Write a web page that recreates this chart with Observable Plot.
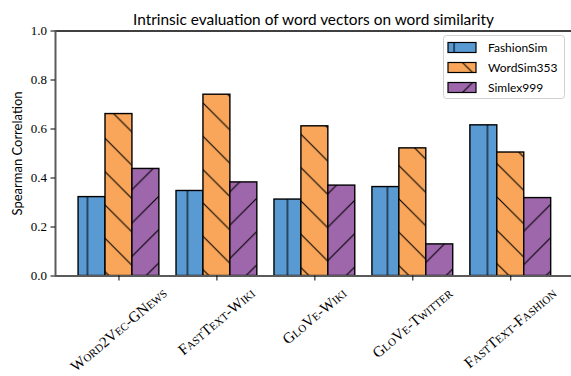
<!DOCTYPE html>
<html>
<head>
<meta charset="utf-8">
<script src="https://cdn.jsdelivr.net/npm/d3@7"></script>
<script src="https://cdn.jsdelivr.net/npm/@observablehq/plot@0.6"></script>
<style>
  html, body { margin: 0; padding: 0; background: #fff; }
  svg { display: block; }
</style>
</head>
<body>
<script>
// ---- data ----
const models = ["Word2Vec-GNews", "FastText-Wiki", "GloVe-Wiki", "GloVe-Twitter", "FastText-Fashion"];
const seriesNames = ["FashionSim", "WordSim353", "Simlex999"];
const fashionSim = [0.322, 0.347, 0.312, 0.363, 0.615];
const wordSim353 = [0.661, 0.740, 0.611, 0.521, 0.504];
const simlex999 = [0.437, 0.382, 0.369, 0.129, 0.318];
const yTicks = [0, 0.2, 0.4, 0.6, 0.8, 1.0];
const colors = ["#599ad3", "#f9a65a", "#9e66ab"];
const titleText = "Intrinsic evaluation of word vectors on word similarity";
const yLabel = "Spearman Correlation";

const seriesValues = [fashionSim, wordSim353, simlex999];
const barW = 0.275;
const table = [];
seriesValues.forEach((vals, si) => {
  vals.forEach((v, mi) => {
    const c = mi + (si - 1) * barW;
    table.push({model: models[mi], mi, series: seriesNames[si], si, value: v, x1: c - barW / 2, x2: c + barW / 2});
  });
});

const SANS = "Lato, 'Open Sans', sans-serif";
const SERIF = "'Liberation Serif', 'DejaVu Serif', serif";
const xDomain = [-0.648, 4.62];
const XFS = 15.2;   // x tick label font size
const ROT = 40;     // x tick label rotation (degrees)

const marks = [];
seriesNames.forEach((s, si) => {
  const rows = table.filter(d => d.si === si);
  marks.push(Plot.rectY(rows, {x1: "x1", x2: "x2", y1: 0, y2: "value", fill: colors[si]}));
  marks.push(Plot.rectY(rows, {x1: "x1", x2: "x2", y1: 0, y2: "value", fill: `url(#hatch${si})`, stroke: "black", strokeWidth: 1.4}));
});

const chart = Plot.plot({
  width: 571,
  height: 376,
  marginLeft: 55,
  marginRight: 0,
  marginTop: 30.5,
  marginBottom: 100.5,
  style: {background: "white", fontFamily: SERIF, fontSize: "13px", color: "black"},
  x: {domain: xDomain},
  y: {domain: [0, 1]},
  marks: [
    ...marks,
    Plot.ruleY([1], {stroke: "black", strokeWidth: 1.3}),
    Plot.ruleY([0], {stroke: "#5a5a5a", strokeWidth: 2}),
    Plot.ruleX([xDomain[0]], {stroke: "#5a5a5a", strokeWidth: 2}),
    Plot.axisY({ticks: yTicks, tickFormat: d3.format(".1f"), tickSize: 4.5, tickPadding: 4, label: null, fontFamily: SERIF, fontSize: 13}),
    Plot.axisX({ticks: d3.range(models.length), tickFormat: i => models[i], tickSize: 5, tickPadding: 4, tickRotate: -ROT, label: null, fontFamily: SERIF, fontSize: XFS}),
    Plot.text([yLabel], {frameAnchor: "left", textAnchor: "middle", rotate: -90, dx: -38, fontFamily: SANS, fontSize: 13}),
    Plot.text([titleText], {frameAnchor: "top", textAnchor: "middle", dy: -17, fontFamily: SANS, fontSize: 15.4})
  ]
});

document.body.appendChild(chart);
const svg = d3.select(chart);

// hatch patterns (anchored in user space, like matplotlib's global hatch grid)
const defs = svg.insert("defs", ":first-child");
const P = 33.333;
const pats = [
  {x: 20.8 - P / 2, d: `M${P / 2},-2 V${P + 2}`},
  {x: 0, d: `M-2,-2 L${P + 2},${P + 2} M-8,${P - 8} L8,${P + 8} M${P - 8},-8 L${P + 8},8`},
  {x: 21.7, d: `M-2,${P + 2} L${P + 2},-2 M-8,8 L8,-8 M${P - 8},${P + 8} L${P + 8},${P - 8}`}
];
pats.forEach((p, i) => {
  const pat = defs.append("pattern").attr("id", `hatch${i}`).attr("patternUnits", "userSpaceOnUse")
    .attr("x", p.x).attr("y", 0).attr("width", P).attr("height", P);
  pat.append("path").attr("d", p.d).attr("stroke", "black").attr("stroke-width", 1.1).attr("fill", "none");
});

// x tick labels: small caps, rotated, centred under the tick (matplotlib ha="center")
const TOP = 287;
const rad = ROT * Math.PI / 180;
svg.selectAll('g[aria-label="x-axis tick label"] text').each(function () {
  d3.select(this.parentNode).attr("transform", null);
  const t = d3.select(this);
  t.style("font-variant", "small-caps").attr("text-anchor", "middle").attr("dy", "0.34em").attr("y", null);
  const m = /translate\(([^,]+),([^)]+)\)/.exec(t.attr("transform") || "");
  const L = this.getComputedTextLength();
  const tx = m ? +m[1] : 0;
  const half = (L / 2) * Math.sin(rad) + 0.34 * XFS * Math.cos(rad);
  t.attr("transform", `translate(${tx},${TOP + half}) rotate(${-ROT})`);
});

// legend
const lg = svg.append("g").attr("font-family", SANS).attr("font-size", 12).attr("text-anchor", "start");
lg.append("rect").attr("x", 443.5).attr("y", 35.5).attr("width", 121).attr("height", 63).attr("rx", 3)
  .attr("fill", "white").attr("fill-opacity", 0.8).attr("stroke", "#d0d0d0");
seriesNames.forEach((s, i) => {
  const cy = 47.5 + i * 20;
  lg.append("rect").attr("x", 448).attr("y", cy - 5).attr("width", 28).attr("height", 10).attr("fill", colors[i]);
  lg.append("rect").attr("x", 448).attr("y", cy - 5).attr("width", 28).attr("height", 10)
    .attr("fill", `url(#hatch${i})`).attr("stroke", "black").attr("stroke-width", 1.2);
  lg.append("text").attr("x", 488).attr("y", cy).attr("dy", "0.35em").attr("text-anchor", "start").text(s);
});
</script>
</body>
</html>
